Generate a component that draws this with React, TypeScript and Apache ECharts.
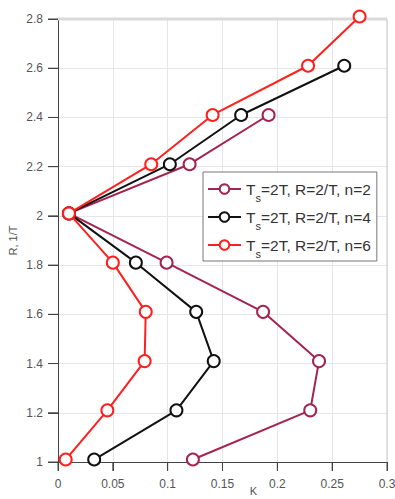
import React, { useEffect, useRef } from "react";
import * as echarts from "echarts";

const rValues = [1.01, 1.21, 1.41, 1.61, 1.81, 2.01, 2.21, 2.41];
const rValuesN4 = [1.01, 1.21, 1.41, 1.61, 1.81, 2.01, 2.21, 2.41, 2.61];
const rValuesN6 = [1.01, 1.21, 1.41, 1.61, 1.81, 2.01, 2.21, 2.41, 2.61, 2.81];

const kN2 = [0.123, 0.23, 0.238, 0.187, 0.099, 0.01, 0.12, 0.192];
const kN4 = [0.033, 0.108, 0.142, 0.126, 0.071, 0.01, 0.102, 0.167, 0.261];
const kN6 = [0.007, 0.045, 0.079, 0.08, 0.05, 0.01, 0.085, 0.141, 0.228, 0.275];

const seriesNames = ["n=2", "n=4", "n=6"];
const seriesColors = ["#A3244F", "#111111", "#FF1F1F"];

const xTickValues = [0, 0.05, 0.1, 0.15, 0.2, 0.25, 0.3];
const yTickValues = [1, 1.2, 1.4, 1.6, 1.8, 2, 2.2, 2.4, 2.6, 2.8];

export default function App() {
  const ref = useRef<HTMLDivElement>(null);
  useEffect(() => {
    if (!ref.current) return;
    const chart = echarts.init(ref.current, null, { renderer: "svg" });
    const pairs = (ks: number[], rs: number[]) => ks.map((k, i) => [k, rs[i]]);
    const datasets = [pairs(kN2, rValues), pairs(kN4, rValuesN4), pairs(kN6, rValuesN6)];
    const font = "Liberation Sans, Arial, sans-serif";
    const xMin = xTickValues[0];
    const xMax = xTickValues[xTickValues.length - 1];
    const yMin = yTickValues[0];
    const yMax = yTickValues[yTickValues.length - 1];
    chart.setOption({
      animation: false,
      textStyle: { fontFamily: font },
      grid: {
        left: 58,
        top: 19,
        right: 8,
        bottom: 37,
        outerBoundsMode: "none",
        containLabel: false,
      },
      legend: {
        orient: "vertical",
        left: 203,
        top: 172,
        itemWidth: 33,
        itemHeight: 12,
        itemGap: 0,
        padding: [3, 6, 2, 4],
        borderColor: "#777",
        borderWidth: 1,
        backgroundColor: "#fff",
        data: seriesNames,
        formatter: (name: string) => `{t|T}{s|s}{t|=2T, R=2/T, ${name}}`,
        textStyle: {
          fontFamily: font,
          color: "#333",
          rich: {
            t: { fontSize: 15.5, lineHeight: 18, color: "#333", fontFamily: font },
            s: {
              fontSize: 11,
              lineHeight: 10,
              padding: [17, 0, 0, 0],
              color: "#333",
              fontFamily: font,
            },
          },
        },
      },
      xAxis: {
        type: "value",
        position: "bottom",
        min: xMin,
        max: xMax,
        interval: 0.05,
        name: "K",
        nameLocation: "middle",
        nameMoveOverlap: false,
        nameGap: 23,
        nameTextStyle: { fontSize: 11, color: "#555", padding: [0, 0, 0, 62] },
        axisLine: { show: true, onZero: false, lineStyle: { color: "#444", width: 1 } },
        axisTick: { show: true, length: 9, lineStyle: { color: "#444", width: 1 } },
        axisLabel: {
          fontSize: 12,
          color: "#555",
          margin: 16,
          formatter: (v: number) => String(Math.round(v * 100) / 100),
        },
        splitLine: { show: true, lineStyle: { color: "#e6e6e6", width: 1 } },
      },
      yAxis: {
        type: "value",
        position: "left",
        min: yMin,
        max: yMax,
        interval: 0.2,
        name: "R, 1/T",
        nameLocation: "middle",
        nameMoveOverlap: false,
        nameGap: 40,
        nameTextStyle: { fontSize: 11, color: "#555" },
        axisLine: { show: true, onZero: false, lineStyle: { color: "#444", width: 1 } },
        axisTick: { show: true, length: 10, lineStyle: { color: "#444", width: 1 } },
        axisLabel: {
          fontSize: 12,
          color: "#555",
          margin: 15,
          formatter: (v: number) => String(Math.round(v * 10) / 10),
        },
        splitLine: { show: true, lineStyle: { color: "#e6e6e6", width: 1 } },
      },
      series: seriesNames.map((name, i) => ({
        name,
        type: "line",
        data: datasets[i],
        symbol: "emptyCircle",
        symbolSize: 12,
        showAllSymbol: true,
        clip: false,
        color: seriesColors[i],
        lineStyle: { color: seriesColors[i], width: 2 },
        itemStyle: { color: seriesColors[i], borderColor: seriesColors[i], borderWidth: 2 },
        z: 2 + i,
      })),
    });

    const px = (x: number, y: number) => {
      const p = chart.convertToPixel({ seriesIndex: 0 }, [x, y]) as number[] | undefined;
      return p && p.length ? p : [0, 0];
    };
    const elements: any[] = [];
    const [lx, by] = px(xMin, yMin);
    const [rx, ty] = px(xMax, yMax);
    elements.push({
      type: "line",
      silent: true,
      z: 1,
      shape: { x1: lx, y1: ty, x2: rx, y2: ty },
      style: { stroke: "#dadada", lineWidth: 3 },
    });
    elements.push({
      type: "line",
      silent: true,
      z: 1,
      shape: { x1: rx, y1: ty, x2: rx, y2: by },
      style: { stroke: "#dadada", lineWidth: 1.5 },
    });
    xTickValues.forEach((v) => {
      const [x] = px(v, yMin);
      elements.push({
        type: "line",
        silent: true,
        z: 1,
        shape: { x1: x, y1: by, x2: x, y2: by + 9 },
        style: { stroke: "#444", lineWidth: 1 },
      });
    });
    yTickValues.forEach((v) => {
      const [, y] = px(xMin, v);
      elements.push({
        type: "line",
        silent: true,
        z: 1,
        shape: { x1: lx - 10, y1: y, x2: lx, y2: y },
        style: { stroke: "#444", lineWidth: 1 },
      });
    });
    chart.setOption({ graphic: { elements } });
    return () => chart.dispose();
  }, []);
  return <div ref={ref} style={{ width: 395, height: 499, position: "absolute", left: 0, top: 0 }} />;
}
